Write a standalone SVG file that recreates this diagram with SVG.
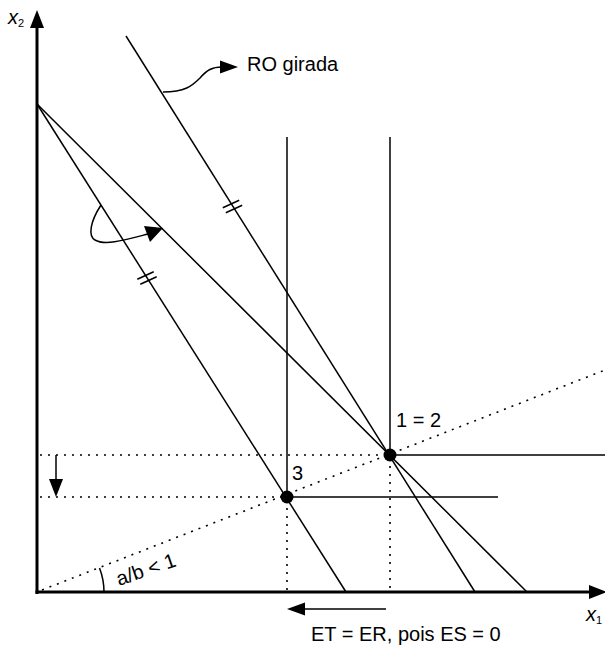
<svg xmlns="http://www.w3.org/2000/svg" width="605" height="645" viewBox="0 0 605 645">
<style>
.ln{stroke:#000;stroke-width:1.5;fill:none}
.ax{stroke:#000;stroke-width:3;fill:none}
.dt{stroke:#000;stroke-width:1.6;fill:none;stroke-dasharray:2 6}
.t{font-family:"Liberation Sans",Arial,sans-serif;font-size:20px;fill:#000}
.ti{font-family:"Liberation Sans",Arial,sans-serif;font-style:italic;fill:#000}
</style>
<rect width="605" height="645" fill="#fff"/>
<g id="axes">
<line class="ax" x1="37" y1="594" x2="37" y2="24"/>
<polygon points="37,10 30,28 44,28" fill="#000"/>
<line class="ax" x1="35.5" y1="592" x2="592" y2="592"/>
<polygon points="607,592 589,585 589,599" fill="#000"/>
<text class="ti" x="8" y="24" font-size="20">x<tspan font-size="11" font-style="normal" dy="3">2</tspan></text>
<text class="ti" x="586" y="621" font-size="20">x<tspan font-size="11" font-style="normal" dy="3">1</tspan></text>
</g>
<g id="connectors">
<line class="ln" x1="37" y1="104" x2="346" y2="592"/>
<line class="ln" x1="37" y1="104" x2="527" y2="592"/>
<line class="ln" x1="126" y1="36" x2="475" y2="592"/>
<line class="ln" x1="287" y1="137" x2="287" y2="497"/>
<line class="ln" x1="390" y1="137" x2="390" y2="455"/>
<line class="ln" x1="390" y1="455" x2="605" y2="455"/>
<line class="ln" x1="287" y1="497" x2="498" y2="497"/>
<line class="dt" x1="40" y1="455" x2="390" y2="455"/>
<line class="dt" x1="40" y1="497" x2="287" y2="497"/>
<line class="dt" x1="287" y1="500" x2="287" y2="590"/>
<line class="dt" x1="390" y1="458" x2="390" y2="590"/>
<line class="dt" x1="42" y1="590" x2="605" y2="370"/>
<path class="ln" d="M99.5,568 A67,67 0 0 1 104,592"/>
<line class="ln" x1="137.3" y1="279.3" x2="153.7" y2="271.7"/>
<line class="ln" x1="140.3" y1="284.3" x2="156.7" y2="276.7"/>
<line class="ln" x1="222.8" y1="207.8" x2="239.2" y2="200.2"/>
<line class="ln" x1="225.8" y1="212.8" x2="242.2" y2="205.2"/>
<path class="ln" d="M163,92 C185,92 192,86 200,78 C207,70 212,67 222,67"/>
<polygon points="238,67 220,60.5 220,73.5" fill="#000"/>
<path class="ln" d="M101,205 C90,222 88,236 95,240 C105,246 125,240 148,234"/>
<polygon points="163,228 144,226 150,242" fill="#000"/>
<line class="ln" x1="56" y1="455" x2="56" y2="482"/>
<polygon points="56,497 49,479 63,479" fill="#000"/>
<line class="ln" x1="386" y1="609" x2="302" y2="609"/>
<polygon points="287,609 305,602.5 305,615.5" fill="#000"/>
</g>
<g id="point-1-2">
<circle cx="390" cy="455" r="6.5" fill="#000"/>
<text class="t" x="396" y="427">1 = 2</text>
</g>
<g id="point-3">
<circle cx="287" cy="497" r="6.5" fill="#000"/>
<text class="t" x="292" y="480" font-size="21">3</text>
</g>
<g id="labels">
<text class="t" x="247" y="71" font-size="21">RO girada</text>
<text class="t" x="311" y="641">ET = ER, pois ES = 0</text>
<text class="t" transform="translate(119,586) rotate(-19)" font-size="21">a/b &lt; 1</text>
</g>
</svg>
